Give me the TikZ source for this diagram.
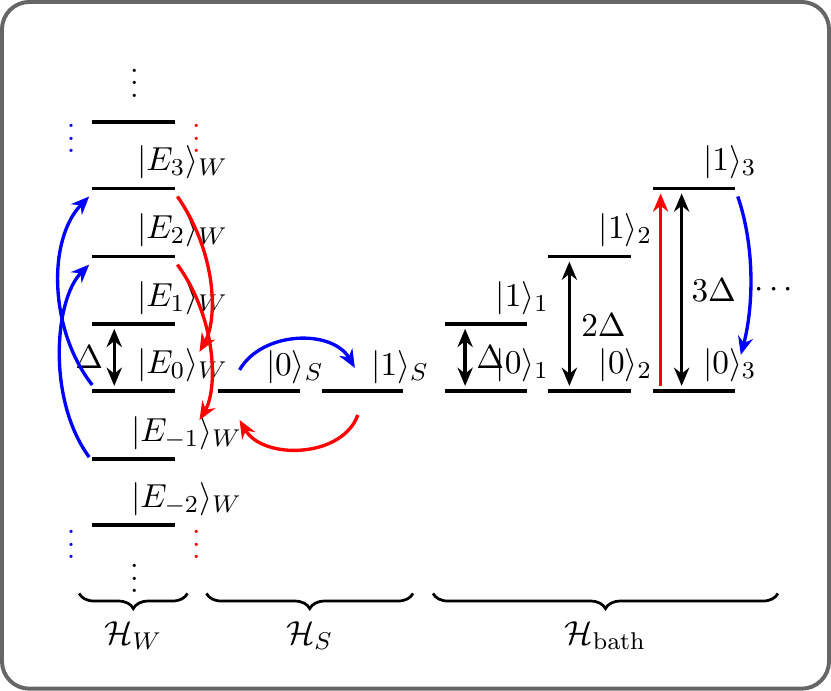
\documentclass[tikz,border=0pt]{standalone}
\usetikzlibrary{decorations.pathreplacing,arrows.meta}
\tikzset{
  lvl/.style={line width=1.2pt},
  tr/.style={-{Stealth[length=6pt,width=5pt]},line width=1.1pt},
  gap/.style={{Stealth[length=6pt,width=5pt]}-{Stealth[length=6pt,width=5pt]},line width=1.1pt},
  every node/.style={font=\fontsize{11}{13}\selectfont},
}
\begin{document}
\begin{tikzpicture}[x=0.33pt,y=-0.33pt]
% frame
\draw[rounded corners=9pt,line width=1.3pt,black!60] (3,3) rectangle (828,688);

% W ladder
\foreach \n/\y in {top/123,3/189,2/257,1/324,0/391,m1/459,m2/525}{
  \coordinate (wl\n) at (93,\y);
  \coordinate (wr\n) at (176,\y);
  \draw[lvl] (wl\n) -- (wr\n);
}
\node (e3) at (183,163) {$|E_3\rangle_W$};
\node (e2) at (183,231) {$|E_2\rangle_W$};
\node (e1) at (183,298) {$|E_1\rangle_W$};
\node (e0) at (183,365) {$|E_0\rangle_W$};
\node (em1) at (187,433) {$|E_{-1}\rangle_W$};
\node (em2) at (187,499) {$|E_{-2}\rangle_W$};
\node (dt) at (135,75) {$\vdots$};
\node (db) at (135,569) {$\vdots$};
\node[blue] (bdt) at (72,130) {$\vdots$};
\node[blue] (bdb) at (72,535) {$\vdots$};
\node[red] (rdt) at (197,130) {$\vdots$};
\node[red] (rdb) at (197,535) {$\vdots$};
\draw[gap] (115,329) -- (115,386);
\node (dw) at (90,357) {$\Delta$};
% transitions in W
\draw[tr,blue] (93,385) .. controls (50,330) and (48,240) .. (90,197);
\draw[tr,blue] (90,457) .. controls (48,400) and (55,300) .. (90,265);
\draw[tr,red] (178,197) .. controls (218,255) and (218,320) .. (200,352);
\draw[tr,red] (178,265) .. controls (218,320) and (218,390) .. (200,420);

% system
\coordinate (s0l) at (218,391); \coordinate (s0r) at (300,391);
\coordinate (s1l) at (322,391); \coordinate (s1r) at (403,391);
\draw[lvl] (s0l) -- (s0r);
\draw[lvl] (s1l) -- (s1r);
\node (s0) at (295,367) {$|0\rangle_S$};
\node (s1) at (400,367) {$|1\rangle_S$};
\draw[tr,blue] (240,370) to[out=60,in=120] (355,368);
\draw[tr,red] (358,415) to[out=-110,in=-60] (240,420);

% bath
\foreach \k/\xl/\yu in {1/445/324,2/548/257,3/652/189}{
  \coordinate (b\k gl) at (\xl,391); \coordinate (b\k gr) at (\xl+82,391);
  \coordinate (b\k el) at (\xl,\yu); \coordinate (b\k er) at (\xl+82,\yu);
  \draw[lvl] (b\k gl) -- (b\k gr);
  \draw[lvl] (b\k el) -- (b\k er);
  \node (g\k) at (\xl+77,365) {$|0\rangle_\k$};
  \node (x\k) at (\xl+77,\yu-26) {$|1\rangle_\k$};
}
\draw[gap] (465,329) -- (465,386);
\node (d1) at (490,357) {$\Delta$};
\draw[gap] (569,262) -- (569,386);
\node (d2) at (603,325) {$2\Delta$};
\draw[tr,red] (660,386) -- (660,194);
\draw[gap] (681,194) -- (681,386);
\node (d3) at (713,290) {$3\Delta$};
\draw[tr,blue] (737,197) .. controls (755,250) and (752,310) .. (740,355);
\node (dots) at (773,290) {$\cdots$};

% braces
\draw[decorate,decoration={brace,mirror,amplitude=5pt},line width=0.9pt] (80,593) -- (188,593);
\draw[decorate,decoration={brace,mirror,amplitude=5pt},line width=0.9pt] (207,593) -- (413,593);
\draw[decorate,decoration={brace,mirror,amplitude=5pt},line width=0.9pt] (433,593) -- (777,593);
\node (hw) at (134,635) {$\mathcal{H}_W$};
\node (hs) at (310,635) {$\mathcal{H}_S$};
\node (hb) at (605,635) {$\mathcal{H}_{\mathrm{bath}}$};
\end{tikzpicture}
\end{document}
